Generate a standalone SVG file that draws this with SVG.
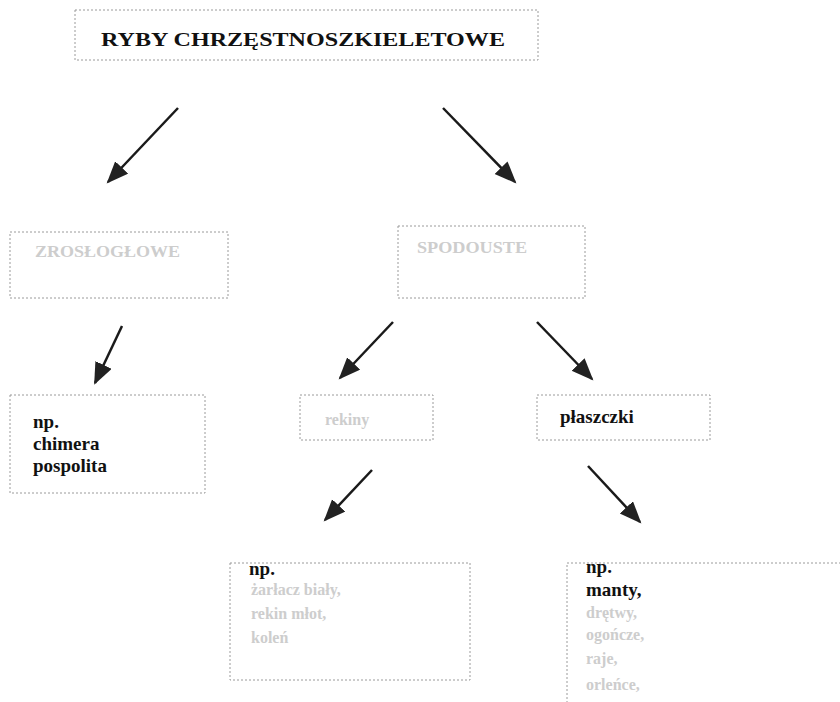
<svg xmlns="http://www.w3.org/2000/svg" width="840" height="702" viewBox="0 0 840 702">
<style>
.box{fill:#fff;stroke:#9a9a9a;stroke-width:1;stroke-dasharray:2 2}
.t{font-family:"Liberation Serif","Times New Roman",serif;font-weight:bold;font-size:19px;fill:#111}
.f{font-family:"Liberation Serif","Times New Roman",serif;font-weight:bold;font-size:16px;fill:#cdcdcd}
.a{stroke:#1a1a1a;stroke-width:2.5;fill:none;marker-end:url(#ah)}
</style>
<defs>
<marker id="ah" markerUnits="userSpaceOnUse" markerWidth="24" markerHeight="20" refX="20" refY="9" orient="auto">
<path d="M0,0 L22,9 L0,18 z" fill="#222"/>
</marker>
</defs>
<rect width="840" height="702" fill="#fff"/>
<g id="n-root">
<rect class="box" x="75" y="10" width="463" height="50"/>
<text class="t" x="101" y="46" font-size="24" textLength="404" lengthAdjust="spacingAndGlyphs">RYBY CHRZĘSTNOSZKIELETOWE</text>
</g>
<g id="n-zroslo">
<rect class="box" x="10" y="232" width="218" height="66"/>
<text class="f" x="35" y="257" textLength="145" lengthAdjust="spacingAndGlyphs">ZROSŁOGŁOWE</text>
</g>
<g id="n-spodo">
<rect class="box" x="398" y="226" width="187" height="72"/>
<text class="f" x="417" y="253" textLength="110" lengthAdjust="spacingAndGlyphs">SPODOUSTE</text>
</g>
<g id="n-chimera">
<rect class="box" x="10" y="395" width="195" height="98"/>
<text class="t" x="33" y="428">np.</text>
<text class="t" x="33" y="450">chimera</text>
<text class="t" x="33" y="472">pospolita</text>
</g>
<g id="n-rekiny">
<rect class="box" x="300" y="395" width="133" height="45"/>
<text class="f" x="325" y="425">rekiny</text>
</g>
<g id="n-plaszczki">
<rect class="box" x="537" y="395" width="173" height="45"/>
<text class="t" x="560" y="423">płaszczki</text>
</g>
<g id="n-rekiny-ex">
<rect class="box" x="230" y="563" width="240" height="117"/>
<text class="t" x="249" y="575">np.</text>
<text class="f" x="251" y="595">żarłacz biały,</text>
<text class="f" x="251" y="619">rekin młot,</text>
<text class="f" x="251" y="643">koleń</text>
</g>
<g id="n-plaszczki-ex">
<rect class="box" x="567" y="563" width="290" height="150"/>
<text class="t" x="586" y="573">np.</text>
<text class="t" x="586" y="596">manty,</text>
<text class="f" x="586" y="618">drętwy,</text>
<text class="f" x="586" y="640">ogończe,</text>
<text class="f" x="586" y="664">raje,</text>
<text class="f" x="586" y="690">orleńce,</text>
</g>
<g id="connectors">
<line class="a" x1="178" y1="108" x2="108" y2="182"/>
<line class="a" x1="443" y1="108" x2="515" y2="182"/>
<line class="a" x1="122" y1="326" x2="95" y2="383"/>
<line class="a" x1="393" y1="322" x2="340" y2="378"/>
<line class="a" x1="537" y1="322" x2="592" y2="379"/>
<line class="a" x1="372" y1="470" x2="325" y2="520"/>
<line class="a" x1="588" y1="466" x2="640" y2="522"/>
</g>
</svg>
